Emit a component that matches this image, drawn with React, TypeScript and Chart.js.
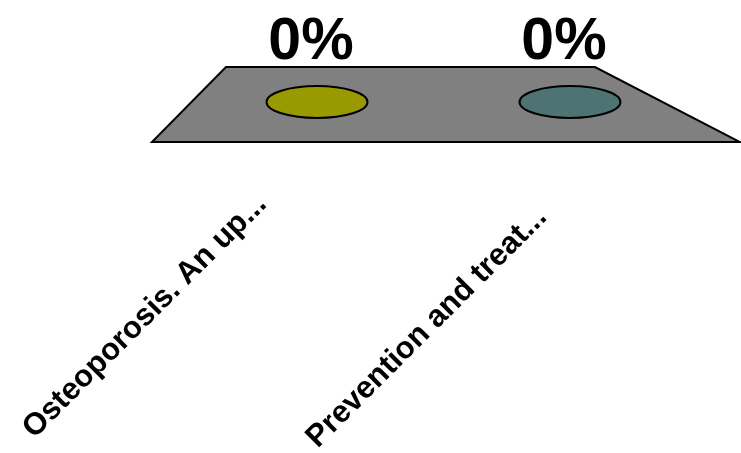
import React, { useEffect, useRef } from "react";
import { Chart, registerables } from "chart.js";

Chart.register(...registerables);

const categories = ["Osteoporosis. An up...", "Prevention and treat..."];
const percentValues = [0, 0];
const barColors = ["#999900", "#4D7373"];

const floorPlugin = {
  id: "floor3d",
  beforeDatasetsDraw(chart: any) {
    const { ctx, chartArea, scales } = chart;
    const zeroY = scales.y.getPixelForValue(0);
    const cx = (chartArea.left + chartArea.right) / 2;
    ctx.save();
    ctx.beginPath();
    ctx.moveTo(cx - 217.5, zeroY - 34);
    ctx.lineTo(cx + 151.5, zeroY - 34);
    ctx.lineTo(cx + 296.5, zeroY + 41);
    ctx.lineTo(cx - 291.5, zeroY + 41);
    ctx.closePath();
    ctx.fillStyle = "#808080";
    ctx.fill();
    ctx.lineWidth = 2;
    ctx.strokeStyle = "#000000";
    ctx.stroke();
    ctx.restore();
  },
  afterDatasetsDraw(chart: any) {
    const { ctx, chartArea, scales } = chart;
    const meta = chart.getDatasetMeta(0);
    const ds = chart.data.datasets[0];
    const cx = (chartArea.left + chartArea.right) / 2;
    ctx.save();
    meta.data.forEach((bar: any, i: number) => {
      const x = bar.x;
      const topY = scales.y.getPixelForValue(ds.data[i]);
      const baseY = scales.y.getPixelForValue(0);
      // bar top (ellipse)
      ctx.beginPath();
      ctx.ellipse(x, topY + 1, 50.5, 16, 0, 0, Math.PI * 2);
      ctx.fillStyle = ds.backgroundColor[i];
      ctx.fill();
      ctx.lineWidth = 2;
      ctx.strokeStyle = "#000000";
      ctx.stroke();
      // value label
      ctx.fillStyle = "#000000";
      ctx.font = "bold 59px 'Liberation Sans', Arial, sans-serif";
      ctx.textAlign = "center";
      ctx.textBaseline = "alphabetic";
      ctx.fillText(ds.data[i] + "%", x - 6, topY - 42);
      // category label (rotated)
      const rel = x - cx;
      const ax = cx - 35.5 + rel * 1.107;
      const ay = baseY + 111 + rel * 0.0514;
      ctx.save();
      ctx.translate(ax, ay);
      ctx.rotate(-Math.PI / 4);
      ctx.font = "bold 31px 'Liberation Sans', Arial, sans-serif";
      ctx.textAlign = "right";
      ctx.textBaseline = "alphabetic";
      ctx.fillText(chart.data.labels[i], 0, 0);
      ctx.restore();
    });
    ctx.restore();
  },
};

export default function App() {
  const canvasRef = useRef<HTMLCanvasElement | null>(null);

  useEffect(() => {
    if (!canvasRef.current) return;
    const chart = new Chart(canvasRef.current, {
      type: "bar",
      data: {
        labels: categories,
        datasets: [
          {
            data: percentValues,
            backgroundColor: barColors,
            borderWidth: 0,
          },
        ],
      },
      options: {
        animation: false,
        responsive: true,
        maintainAspectRatio: false,
        layout: { padding: { left: 190.5, right: 44.5, top: 20, bottom: 352 } },
        plugins: { legend: { display: false }, tooltip: { enabled: false } },
        scales: {
          x: { display: false, offset: true },
          y: { display: false, min: 0, max: 100 },
        },
      },
      plugins: [floorPlugin],
    });
    return () => chart.destroy();
  }, []);

  return (
    <div
      style={{
        position: "fixed",
        left: 0,
        top: 0,
        width: 741,
        height: 453,
        background: "#ffffff",
      }}
    >
      <canvas ref={canvasRef} />
    </div>
  );
}
